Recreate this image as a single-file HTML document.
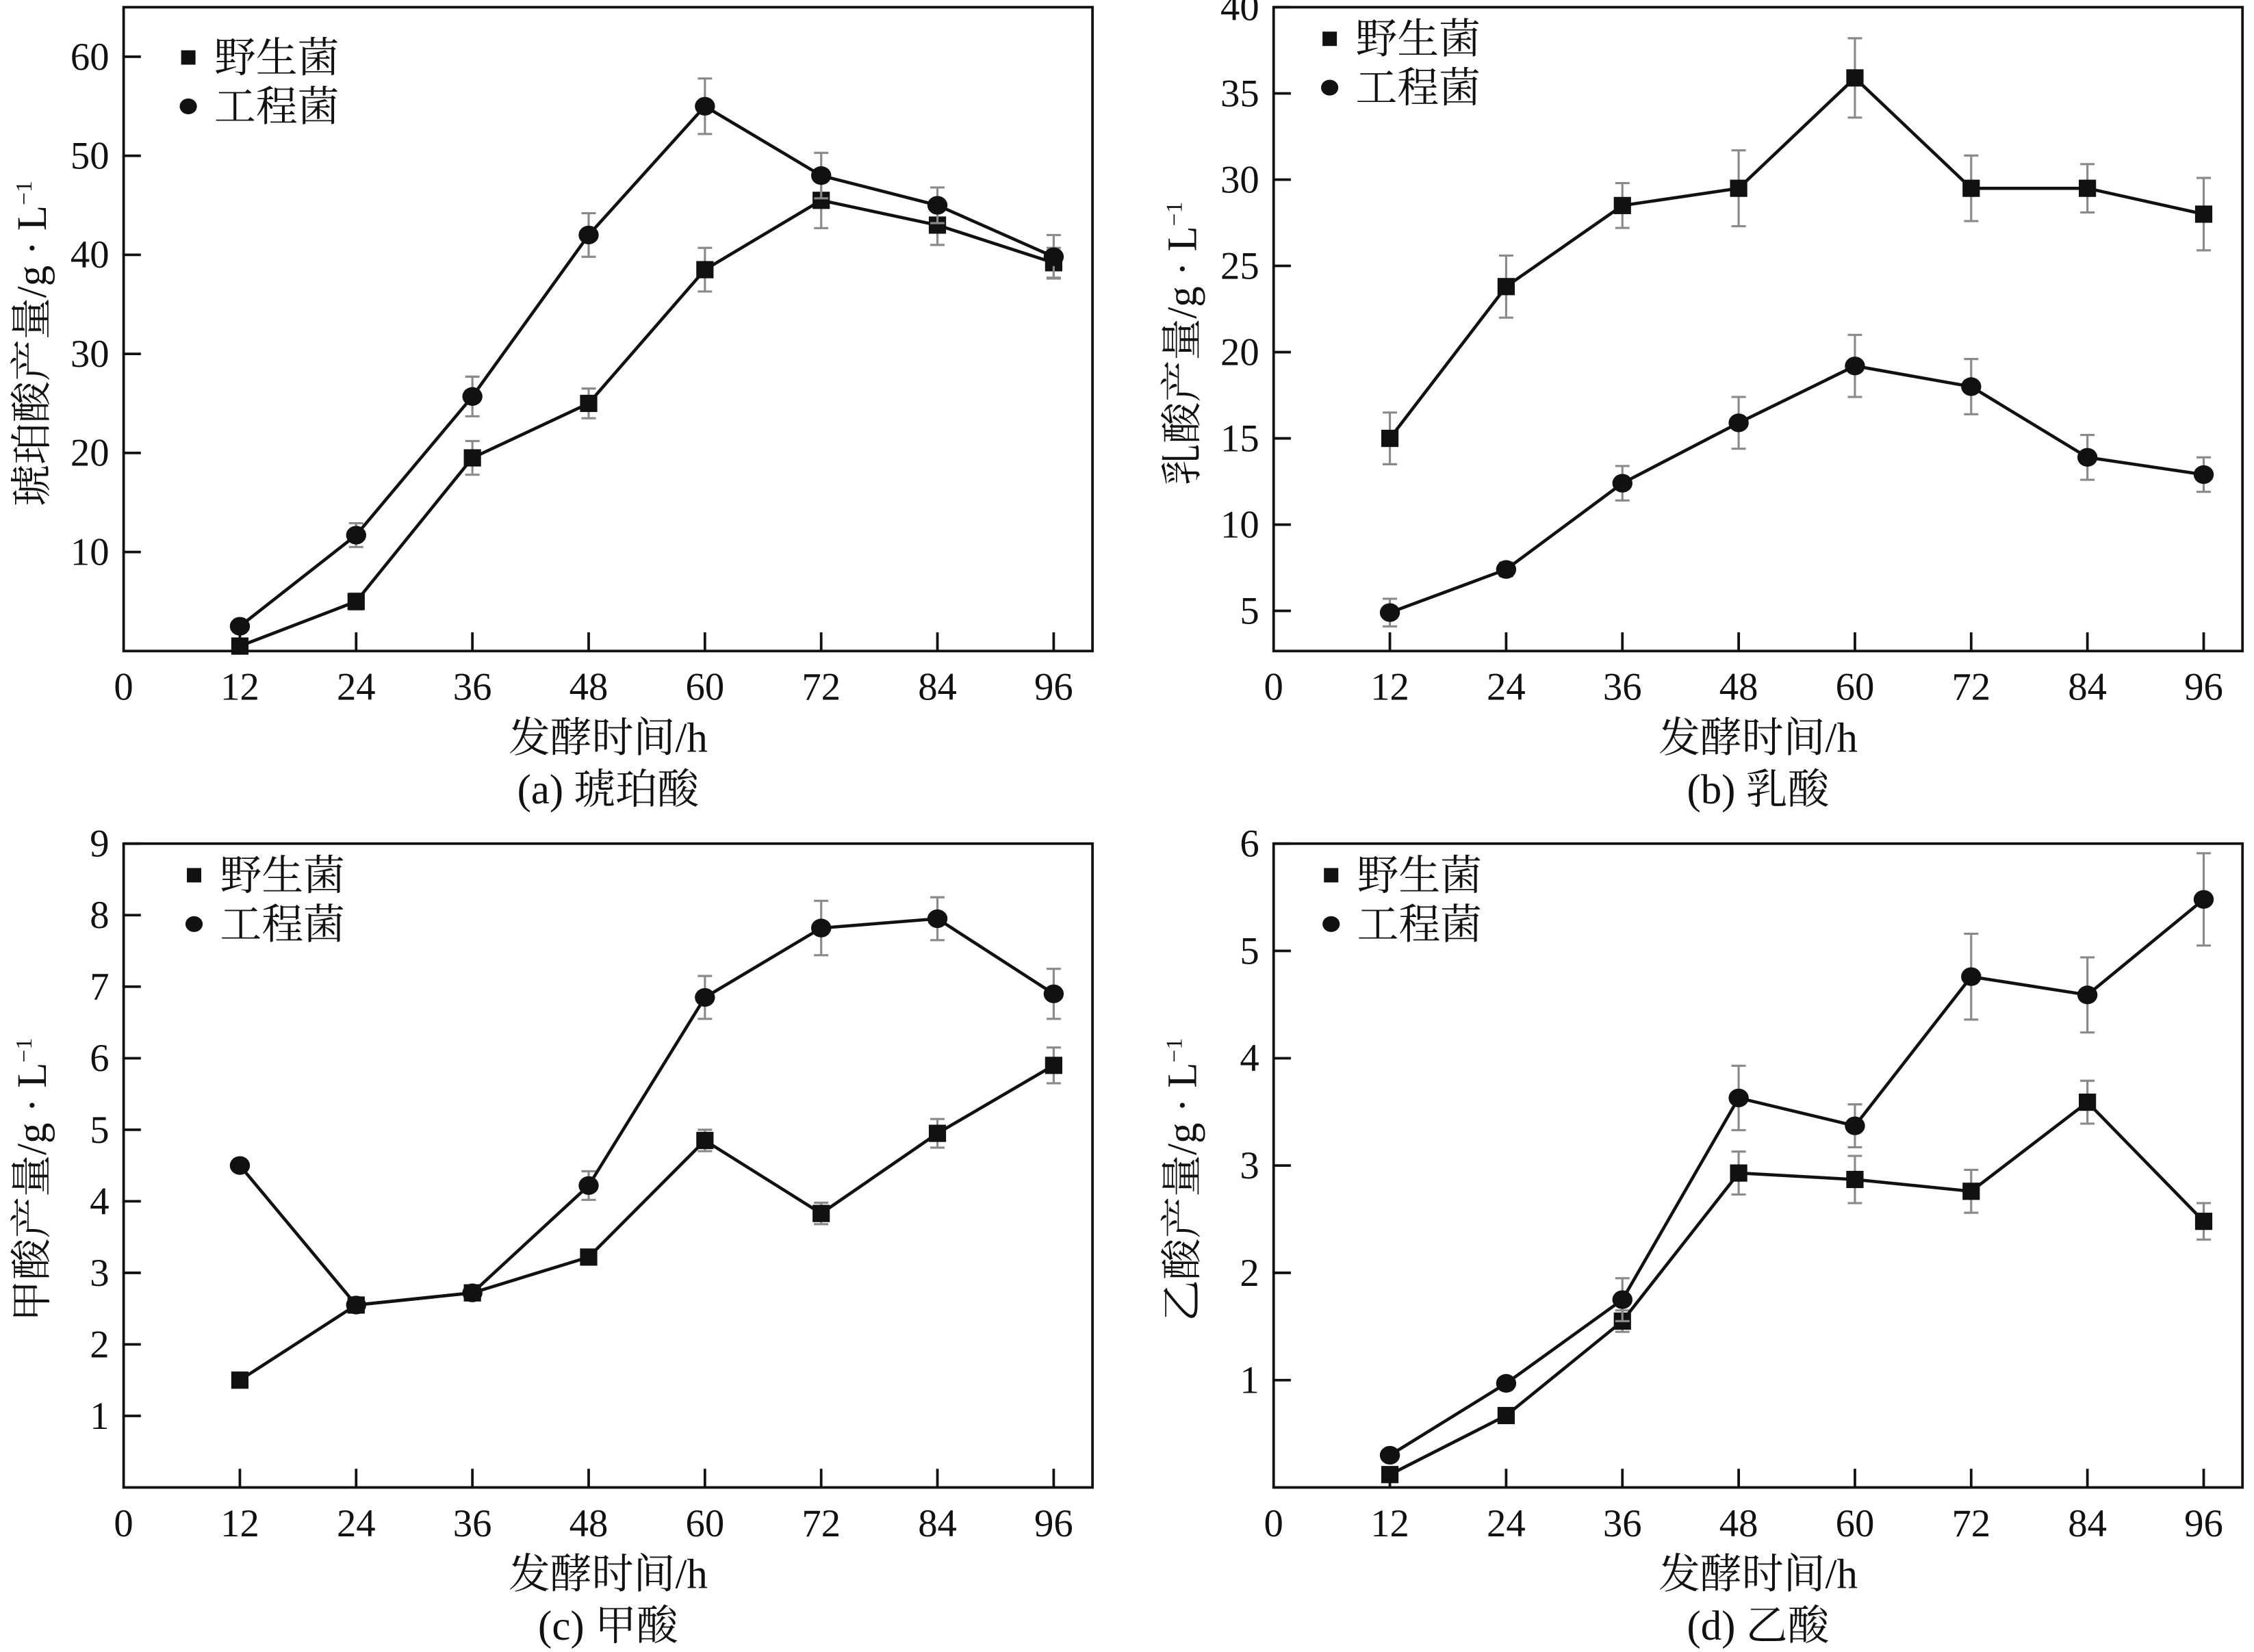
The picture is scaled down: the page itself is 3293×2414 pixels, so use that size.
<!DOCTYPE html>
<html><head><meta charset="utf-8"><style>
html,body{margin:0;padding:0;background:#fff;}
svg{display:block;}
text{fill:#111;}
.num{font-family:"Liberation Serif","Noto Serif CJK SC",serif;font-size:27px;}
.cjk{font-family:"Liberation Serif","Noto Serif CJK SC",serif;font-size:29px;}
</style></head><body>
<svg id="fig" width="3293" height="2414" viewBox="0 0 1568 1149.5" preserveAspectRatio="none" xmlns="http://www.w3.org/2000/svg"></svg>
<script>
const hours=[12,24,36,48,60,72,84,96];
const aWild=[0.5,5,19.5,25,38.5,45.5,43,39.2];
const aWildErr=[0.3,0.8,1.7,1.5,2.2,2.8,2,1.5];
const aEng=[2.5,11.7,25.7,42,55,48,45,39.8];
const aEngErr=[0.3,1.2,2,2.2,2.8,2.3,1.8,2.2];
const bWild=[15,23.8,28.5,29.5,35.9,29.5,29.5,28];
const bWildErr=[1.5,1.8,1.3,2.2,2.3,1.9,1.4,2.1];
const bEng=[4.9,7.4,12.4,15.9,19.2,18,13.9,12.9];
const bEngErr=[0.8,0.4,1,1.5,1.8,1.6,1.3,1];
const cWild=[1.5,2.55,2.72,3.22,4.85,3.83,4.95,5.9];
const cWildErr=[0,0,0,0.06,0.15,0.15,0.2,0.25];
const cEng=[4.5,2.55,2.72,4.22,6.85,7.82,7.95,6.9];
const cEngErr=[0,0,0,0.2,0.3,0.38,0.3,0.35];
const dWild=[0.12,0.67,1.55,2.93,2.87,2.76,3.59,2.48];
const dWildErr=[0,0.03,0.1,0.2,0.22,0.2,0.2,0.17];
const dEng=[0.3,0.97,1.75,3.63,3.37,4.76,4.59,5.48];
const dEngErr=[0,0.03,0.2,0.3,0.2,0.4,0.35,0.43];
const xTicks=[0,12,24,36,48,60,72,84,96];
const aYTicks=[10,20,30,40,50,60];
const bYTicks=[5,10,15,20,25,30,35,40];
const cYTicks=[1,2,3,4,5,6,7,8,9];
const dYTicks=[1,2,3,4,5,6];

const NS="http://www.w3.org/2000/svg";
const svg=document.getElementById('fig');
function mk(tag,attrs,parent){const e=document.createElementNS(NS,tag);for(const k in attrs)e.setAttribute(k,attrs[k]);(parent||svg).appendChild(e);return e;}

const panels=[
 {id:'a',L:86,T:5,B:453,ymin:0,ymax:65,yt:aYTicks,wild:aWild,we:aWildErr,eng:aEng,ee:aEngErr,ytitle:'琥珀酸产量/g · L',cap:'(a) 琥珀酸',legX:131,legY:40},
 {id:'b',L:886,T:5,B:453,ymin:2.67,ymax:40,yt:bYTicks,wild:bWild,we:bWildErr,eng:bEng,ee:bEngErr,ytitle:'乳酸产量/g · L',cap:'(b) 乳酸',legX:925,legY:27},
 {id:'c',L:86,T:587,B:1035,ymin:0,ymax:9,yt:cYTicks,wild:cWild,we:cWildErr,eng:cEng,ee:cEngErr,ytitle:'甲酸产量/g · L',cap:'(c) 甲酸',legX:135,legY:609},
 {id:'d',L:886,T:587,B:1035,ymin:0,ymax:6,yt:dYTicks,wild:dWild,we:dWildErr,eng:dEng,ee:dEngErr,ytitle:'乙酸产量/g · L',cap:'(d) 乙酸',legX:926,legY:609}
];

panels.forEach(p=>{
 const W=674;
 const g=mk('g',{});
 
 
 const xs=v=>p.L+(v/96)*(647);
 const ys=v=>p.B-(v-p.ymin)/(p.ymax-p.ymin)*(p.B-p.T);
 const frame=mk('rect',{x:p.L,y:p.T,width:W,height:p.B-p.T,fill:'none',stroke:'#111','stroke-width':1.8},g);
 
 
 xTicks.forEach(t=>{
  if(t>0){const tk=mk('line',{x1:xs(t),x2:xs(t),y1:p.B,y2:p.B-13,stroke:'#111','stroke-width':1.8},g);
  
  }
  const tl=mk('text',{x:xs(t),y:p.B+34,'text-anchor':'middle',class:'num'},g);
  tl.textContent=t;
  
  
 });
 p.yt.forEach(t=>{
  const y=ys(t);
  const tk=mk('line',{x1:p.L,x2:p.L+12,y1:y,y2:y,stroke:'#111','stroke-width':1.8},g);
  
  
  const tl=mk('text',{x:p.L-10,y:y+9,'text-anchor':'end',class:'num'},g);
  tl.textContent=t;
  
  
 });
 const xt=mk('text',{x:p.L+337,y:p.B+70,'text-anchor':'middle',class:'cjk'},g);
 xt.textContent='发酵时间/h';
 
 
 const cp=mk('text',{x:p.L+337,y:p.B+106,'text-anchor':'middle',class:'cjk'},g);
 cp.textContent=p.cap;
 
 
 const cy=(p.T+p.B)/2+10;
 const yt=mk('text',{x:0,y:0,'text-anchor':'middle',class:'cjk',transform:`translate(${p.L-54},${cy}) rotate(-90)`},g);
 yt.textContent=p.ytitle;
 const sup=mk('tspan',{dy:-10,'font-size':16},yt);
 sup.textContent='−1';
 
 
 [['wild',p.wild,p.we],['eng',p.eng,p.ee]].forEach(([nm,vals,errs])=>{
  errs.forEach((e,i)=>{
   if(e<=0)return;
   const x=xs(hours[i]),y1=ys(vals[i]-e),y2=ys(vals[i]+e);
   const eb=mk('path',{d:`M${x},${y1}V${y2}M${x-5},${y1}H${x+5}M${x-5},${y2}H${x+5}`,stroke:'#8a8a8a','stroke-width':1.5,fill:'none'},g);
   
   
  });
  const pts=vals.map((v,i)=>xs(hours[i])+','+ys(v)).join(' ');
  const ln=mk('polyline',{points:pts,fill:'none',stroke:'#111','stroke-width':2.2},g);
  
  
  vals.forEach((v,i)=>{
   const x=xs(hours[i]),y=ys(v);
   let m;
   if(nm==='wild')m=mk('rect',{x:x-6,y:y-6,width:12,height:12,fill:'#111'},g);
   else m=mk('ellipse',{cx:x,cy:y,rx:7,ry:6.5,fill:'#111'},g);
   
   
  });
 });
 const lg=mk('g',{},g);
 
 
 const s=mk('rect',{x:p.legX-5,y:p.legY-5,width:10,height:10,fill:'#111'},lg);
 
 
 const t1=mk('text',{x:p.legX+18,y:p.legY+10,class:'cjk'},lg);
 t1.textContent='野生菌';
 
 
 const c=mk('ellipse',{cx:p.legX,cy:p.legY+34,rx:6,ry:5.5,fill:'#111'},lg);
 
 
 const t2=mk('text',{x:p.legX+18,y:p.legY+44,class:'cjk'},lg);
 t2.textContent='工程菌';
 
 
});
</script>
</body></html>
